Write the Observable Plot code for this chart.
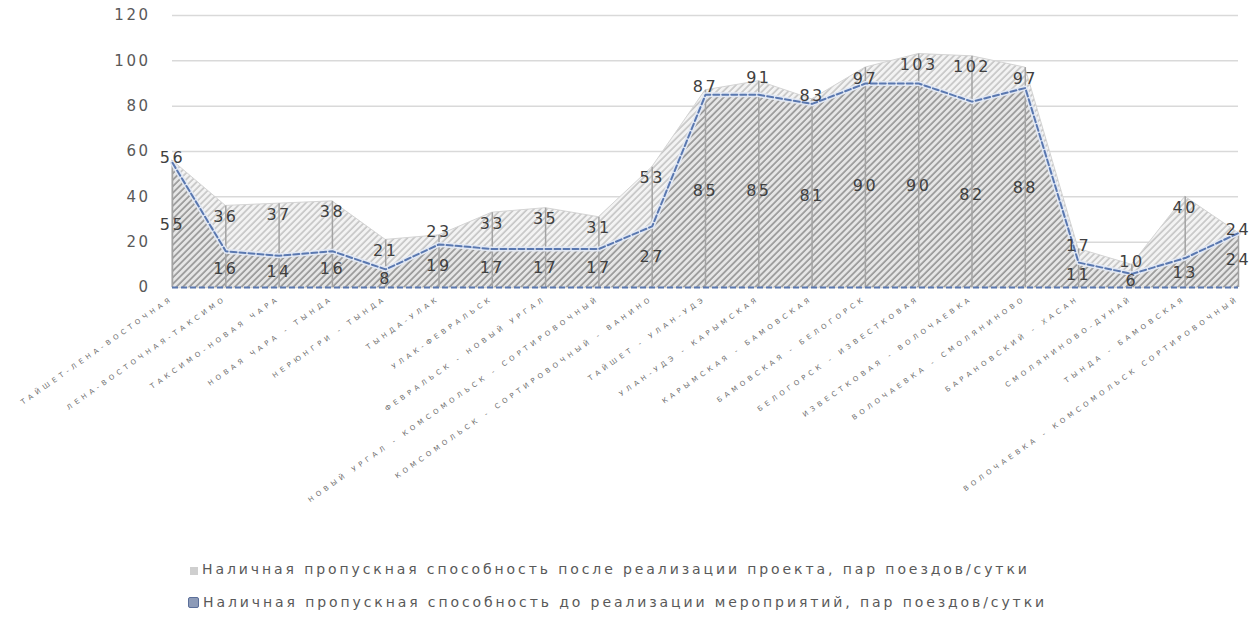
<!DOCTYPE html>
<html>
<head>
<meta charset="utf-8">
<script src="https://cdn.jsdelivr.net/npm/d3@7"></script>
<script src="https://cdn.jsdelivr.net/npm/@observablehq/plot@0.6"></script>
<style>
  html, body { margin: 0; padding: 0; background: #fff; }
  #wrap { position: relative; width: 1257px; height: 619px; }
  .legend { position: absolute; left: 188px; font-family: "DejaVu Sans", sans-serif; font-size: 14px; color: #595959; letter-spacing: 2.9px; white-space: nowrap; }
  .legend .mk { display: inline-block; width: 9px; height: 9px; margin-right: 4px; vertical-align: -1px; }
</style>
</head>
<body>
<div id="wrap"></div>
<script>
const categories = [
  "ТАЙШЕТ-ЛЕНА-ВОСТОЧНАЯ",
  "ЛЕНА-ВОСТОЧНАЯ-ТАКСИМО",
  "ТАКСИМО-НОВАЯ ЧАРА",
  "НОВАЯ ЧАРА - ТЫНДА",
  "НЕРЮНГРИ - ТЫНДА",
  "ТЫНДА-УЛАК",
  "УЛАК-ФЕВРАЛЬСК",
  "ФЕВРАЛЬСК - НОВЫЙ УРГАЛ",
  "НОВЫЙ УРГАЛ - КОМСОМОЛЬСК - СОРТИРОВОЧНЫЙ",
  "КОМСОМОЛЬСК - СОРТИРОВОЧНЫЙ - ВАНИНО",
  "ТАЙШЕТ - УЛАН-УДЭ",
  "УЛАН-УДЭ - КАРЫМСКАЯ",
  "КАРЫМСКАЯ - БАМОВСКАЯ",
  "БАМОВСКАЯ - БЕЛОГОРСК",
  "БЕЛОГОРСК - ИЗВЕСТКОВАЯ",
  "ИЗВЕСТКОВАЯ - ВОЛОЧАЕВКА",
  "ВОЛОЧАЕВКА - СМОЛЯНИНОВО",
  "БАРАНОВСКИЙ - ХАСАН",
  "СМОЛЯНИНОВО-ДУНАЙ",
  "ТЫНДА - БАМОВСКАЯ",
  "ВОЛОЧАЕВКА - КОМСОМОЛЬСК СОРТИРОВОЧНЫЙ"
];
const afterValues  = [56, 36, 37, 38, 21, 23, 33, 35, 31, 53, 87, 91, 83, 97, 103, 102, 97, 17, 10, 40, 24];
const beforeValues = [55, 16, 14, 16, 8, 19, 17, 17, 17, 27, 85, 85, 81, 90, 90, 82, 88, 11, 6, 13, 24];
const yTicks = [0, 20, 40, 60, 80, 100, 120];
const seriesNames = [
  "Наличная пропускная способность после реализации проекта, пар поездов/сутки",
  "Наличная пропускная способность до реализации мероприятий, пар поездов/сутки"
];

const rows = categories.map((c, i) => ({i, c, after: afterValues[i], before: beforeValues[i]}));
const closeRows = rows.filter(d => d.after - d.before <= 6);
const farRows = rows.filter(d => d.after - d.before > 6);

const plot = Plot.plot({
  width: 1257,
  height: 550,
  marginTop: 15,
  marginBottom: 263,
  marginLeft: 172,
  marginRight: 19,
  style: {fontFamily: "DejaVu Sans, sans-serif", background: "#fff"},
  x: {type: "linear", domain: [0, categories.length - 1]},
  y: {domain: [0, 120]},
  marks: [
    Plot.gridY(yTicks, {stroke: "#d9d9d9", strokeOpacity: 1, strokeWidth: 1.5}),
    Plot.areaY(rows, {x: "i", y: "after", fill: "url(#hatchAfter)", stroke: "#d4d4d4", strokeWidth: 1}),
    Plot.areaY(rows, {x: "i", y: "before", fill: "url(#hatchBefore)"}),
    Plot.ruleX(rows, {x: "i", y1: 0, y2: "after", stroke: "#a3a3a3", strokeWidth: 1.5}),
    Plot.lineY(rows, {x: "i", y: "before", stroke: "#e2e8f3", strokeWidth: 5}),
    Plot.lineY(rows, {x: "i", y: "before", stroke: "#5a78b0", strokeWidth: 2, strokeDasharray: "6,3"}),
    Plot.ruleY([0], {stroke: "#5a78b0", strokeWidth: 2, strokeDasharray: "6,3"}),
    Plot.text(farRows, {x: "i", y: "after", text: d => String(d.after), dy: 11, fontSize: 16, fill: "#404040"}),
    Plot.text(closeRows, {x: "i", y: "after", text: d => String(d.after), dy: -3, fontSize: 16, fill: "#404040"}),
    Plot.text(rows, {x: "i", y: d => d.before / 2, text: d => String(d.before), fontSize: 16, fill: "#404040"}),
    Plot.axisY({ticks: yTicks, tickSize: 0, tickPadding: 22, fontSize: 15, label: null}),
    Plot.axisX({ticks: d3.range(categories.length), tickFormat: i => categories[i], tickRotate: -35, tickSize: 0, tickPadding: 10, fontSize: 7, label: null})
  ]
});

const svg = d3.select(plot);
const defs = svg.insert("defs", ":first-child");
function hatch(id, bg, line) {
  const p = defs.append("pattern").attr("id", id).attr("patternUnits", "userSpaceOnUse")
    .attr("width", 4.6).attr("height", 4.6).attr("patternTransform", "rotate(45)");
  p.append("rect").attr("width", 4.6).attr("height", 4.6).attr("fill", bg);
  p.append("line").attr("x1", 1).attr("y1", 0).attr("x2", 1).attr("y2", 4.6).attr("stroke", line).attr("stroke-width", 1.6);
}
hatch("hatchAfter", "#f3f3f3", "#c4c4c4");
hatch("hatchBefore", "#e6e6e6", "#939393");

svg.selectAll('g[aria-label="x-axis tick label"] text').attr("letter-spacing", 4).attr("fill", "#707070");
svg.selectAll('g[aria-label="y-axis tick label"] text').attr("letter-spacing", 2.5).attr("fill", "#595959");
svg.selectAll('g[aria-label="text"] text').attr("letter-spacing", 2.5);

const wrap = document.getElementById("wrap");
wrap.appendChild(plot);

const leg1 = document.createElement("div");
leg1.className = "legend";
leg1.style.top = "561px";
leg1.innerHTML = `<span class="mk" style="background:#cfcfcf;width:8px;height:8px;margin-left:2px"></span>${seriesNames[0]}`;
wrap.appendChild(leg1);
const leg2 = document.createElement("div");
leg2.className = "legend";
leg2.style.top = "594px";
leg2.innerHTML = `<span class="mk" style="background:#8d9bb8;border:1px solid #5b6f9a;border-radius:2px"></span>${seriesNames[1]}`;
wrap.appendChild(leg2);
</script>
</body>
</html>
